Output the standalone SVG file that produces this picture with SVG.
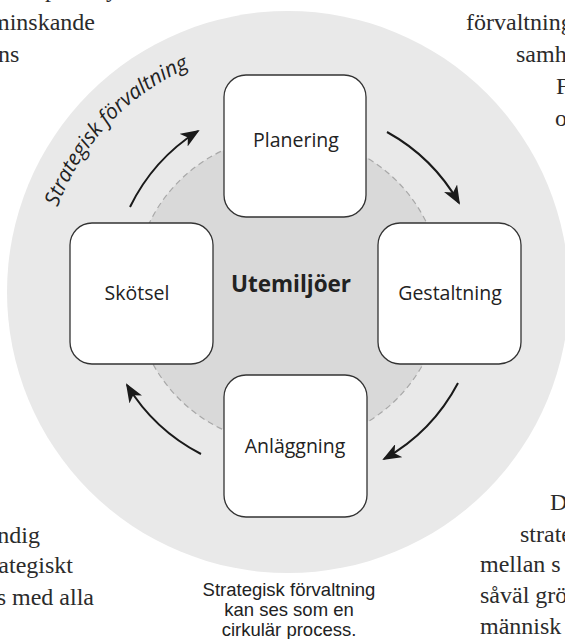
<svg xmlns="http://www.w3.org/2000/svg" xmlns:xlink="http://www.w3.org/1999/xlink" width="565" height="639" viewBox="0 0 565 639">
  <style>
    .page { font-family: "Liberation Serif", "DejaVu Serif", serif; font-size: 24px; fill: #2b2b2b; }
    .box { fill: #ffffff; stroke: #333333; stroke-width: 1.3; }
    .lbl { font-family: "Open Sans", "Noto Sans", sans-serif; font-size: 19.5px; fill: #222222; text-anchor: middle; }
    .hub { font-family: "Open Sans", "Noto Sans", sans-serif; font-size: 22.5px; font-weight: bold; fill: #222222; text-anchor: middle; }
    .arc { fill: none; stroke: #1a1a1a; stroke-width: 2; marker-end: url(#head); }
    .cap { font-family: "Liberation Sans", Arial, sans-serif; font-size: 18.5px; fill: #222222; text-anchor: middle; }
    .ring { font-family: "Open Sans", "Noto Sans", sans-serif; font-style: italic; font-size: 21px; fill: #222222; }
  </style>
  <defs>
    <marker id="head" viewBox="0 0 19 15" refX="17" refY="7.5" markerWidth="19" markerHeight="15" markerUnits="userSpaceOnUse" orient="auto">
      <path d="M0,0 L19,7.5 L0,15 L5,7.5 Z" fill="#1a1a1a"/>
    </marker>
    <path id="ringPath" d="M57.6,207.2 A242,242 0 0 1 263.9,48.9"/>
  </defs>

  <!-- surrounding page text fragments -->
  <g id="page-text" class="page">
    <text x="0" y="-3"><tspan x="45">p</tspan><tspan x="106">y</tspan></text>
    <text x="-9" y="30">minskande</text>
    <text x="-2" y="62">ns</text>
    <text x="466" y="30">förvaltning</text>
    <text x="516" y="62">samhe</text>
    <text x="556" y="94">F</text>
    <text x="555" y="126">o</text>
    <text x="40" y="543" text-anchor="end">ndig</text>
    <text x="73" y="573" text-anchor="end">ategiskt</text>
    <text x="94" y="605" text-anchor="end">s med alla</text>
    <text x="550" y="510">D</text>
    <text x="520" y="542">strate</text>
    <text x="480" y="572">mellan s</text>
    <text x="480" y="603">såväl grö</text>
    <text x="480" y="634">människ</text>
  </g>

  <!-- background rings -->
  <g id="rings">
    <circle cx="288" cy="292" r="281" fill="#e9e9e9"/>
    <circle cx="288" cy="290" r="154" fill="#d9d9d9" stroke="#a8a8a8" stroke-width="1.2" stroke-dasharray="6 4"/>
  </g>

  <g id="ring-label">
    <text class="ring"><textPath xlink:href="#ringPath" href="#ringPath">Strategisk förvaltning</textPath></text>
  </g>

  <g id="connectors">
    <path class="arc" d="M130,207 A187,187 0 0 1 198,131"/>
    <path class="arc" d="M387,132 A187,187 0 0 1 459,203"/>
    <path class="arc" d="M458,383 A187,187 0 0 1 384,459"/>
    <path class="arc" d="M201,454 A187,187 0 0 1 127,385"/>
  </g>

  <g id="hub">
    <text class="hub" x="291" y="292">Utemiljöer</text>
  </g>

  <g id="planering">
    <rect class="box" x="224" y="75" width="142" height="142" rx="22"/>
    <text class="lbl" x="296" y="147">Planering</text>
  </g>
  <g id="gestaltning">
    <rect class="box" x="378" y="223" width="143" height="141" rx="22"/>
    <text class="lbl" x="450" y="300">Gestaltning</text>
  </g>
  <g id="anlaggning">
    <rect class="box" x="224" y="375" width="143" height="142" rx="22"/>
    <text class="lbl" x="295" y="453">Anläggning</text>
  </g>
  <g id="skotsel">
    <rect class="box" x="70" y="223" width="143" height="141" rx="22"/>
    <text class="lbl" x="137" y="300">Skötsel</text>
  </g>

  <g id="caption">
    <text class="cap" x="289" y="596">Strategisk förvaltning</text>
    <text class="cap" x="289" y="616">kan ses som en</text>
    <text class="cap" x="289" y="636">cirkulär process.</text>
  </g>
</svg>
